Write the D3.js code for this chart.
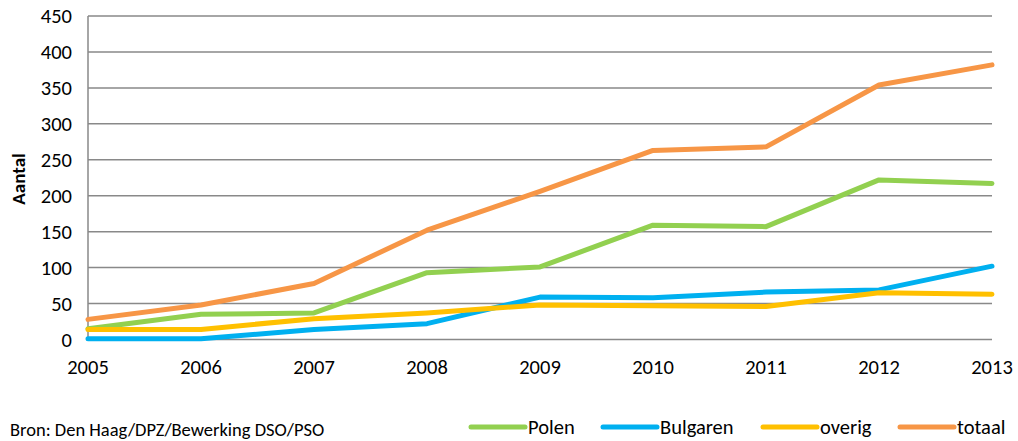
<!DOCTYPE html>
<html><head><meta charset="utf-8">
<script src="https://cdn.jsdelivr.net/npm/d3@7"></script>
<style>body{margin:0;background:#fff;} text{font-family:Carlito,"Open Sans","Liberation Sans",sans-serif;}</style>
</head><body><svg id="c" width="1018" height="441"></svg>
<script>
const years = [2005,2006,2007,2008,2009,2010,2011,2012,2013];
const polen    = [15, 35, 37, 93, 101, 159, 157, 222, 217];
const bulgaren = [1, 1, 14, 22, 59, 58, 66, 69, 102];
const overig   = [14, 14, 29, 37, 48, 47, 46, 65, 63];
const totaal   = [28, 48, 78, 152, 206, 263, 268, 354, 382];
const yTicks = [0,50,100,150,200,250,300,350,400,450];
const seriesNames = ["Polen","Bulgaren","overig","totaal"];
const seriesColors = ["#92D050","#00B0F0","#FFC000","#F79646"];
const seriesData = [polen, bulgaren, overig, totaal];

const svg = d3.select("#c");
const x = d3.scalePoint().domain(years).range([88, 992]);
const y = d3.scaleLinear().domain([0,450]).range([339.5, 16]);

// gridlines
svg.append("g").selectAll("line").data(yTicks).join("line")
  .attr("x1",88).attr("x2",992).attr("y1",d=>y(d)).attr("y2",d=>y(d))
  .attr("stroke","#898989").attr("stroke-width",1.5);
// y axis line
svg.append("line").attr("x1",88).attr("x2",88).attr("y1",y(450)).attr("y2",y(0))
  .attr("stroke","#898989").attr("stroke-width",1.5);

// y tick labels
svg.append("g").selectAll("text").data(yTicks).join("text")
  .attr("x",72).attr("y",d=>y(d)).attr("dy","0.35em").attr("text-anchor","end")
  .attr("font-size",20.5).attr("fill","#000").text(d=>d);
// x tick labels
svg.append("g").selectAll("text").data(years).join("text")
  .attr("x",d=>x(d)).attr("y",374).attr("text-anchor","middle")
  .attr("font-size",20.5).attr("fill","#000").text(d=>d);

// y title
svg.append("text").attr("transform","translate(18.5,179) rotate(-90)")
  .attr("text-anchor","middle").attr("dy","0.35em").attr("font-size",19).attr("font-weight","bold")
  .text("Aantal");

// lines
const line = d3.line().x((d,i)=>x(years[i])).y(d=>y(d));
svg.append("g").selectAll("path").data(seriesData).join("path")
  .attr("d",d=>line(d)).attr("fill","none")
  .attr("stroke",(d,i)=>seriesColors[i]).attr("stroke-width",5)
  .attr("stroke-linecap","round").attr("stroke-linejoin","round");

// legend
const legendX = [471, 603, 763, 900];
const lg = svg.append("g").selectAll("g").data(seriesNames).join("g")
  .attr("transform",(d,i)=>`translate(${legendX[i]},427)`);
lg.append("line").attr("x1",0).attr("x2",54).attr("y1",0).attr("y2",0)
  .attr("stroke",(d,i)=>seriesColors[i]).attr("stroke-width",5).attr("stroke-linecap","round");
lg.append("text").attr("x",57).attr("y",6.5).attr("font-size",20.5).text(d=>d);

// source
svg.append("text").attr("x",10).attr("y",436).attr("font-size",18.5)
  .text("Bron: Den Haag/DPZ/Bewerking DSO/PSO");
</script></body></html>
